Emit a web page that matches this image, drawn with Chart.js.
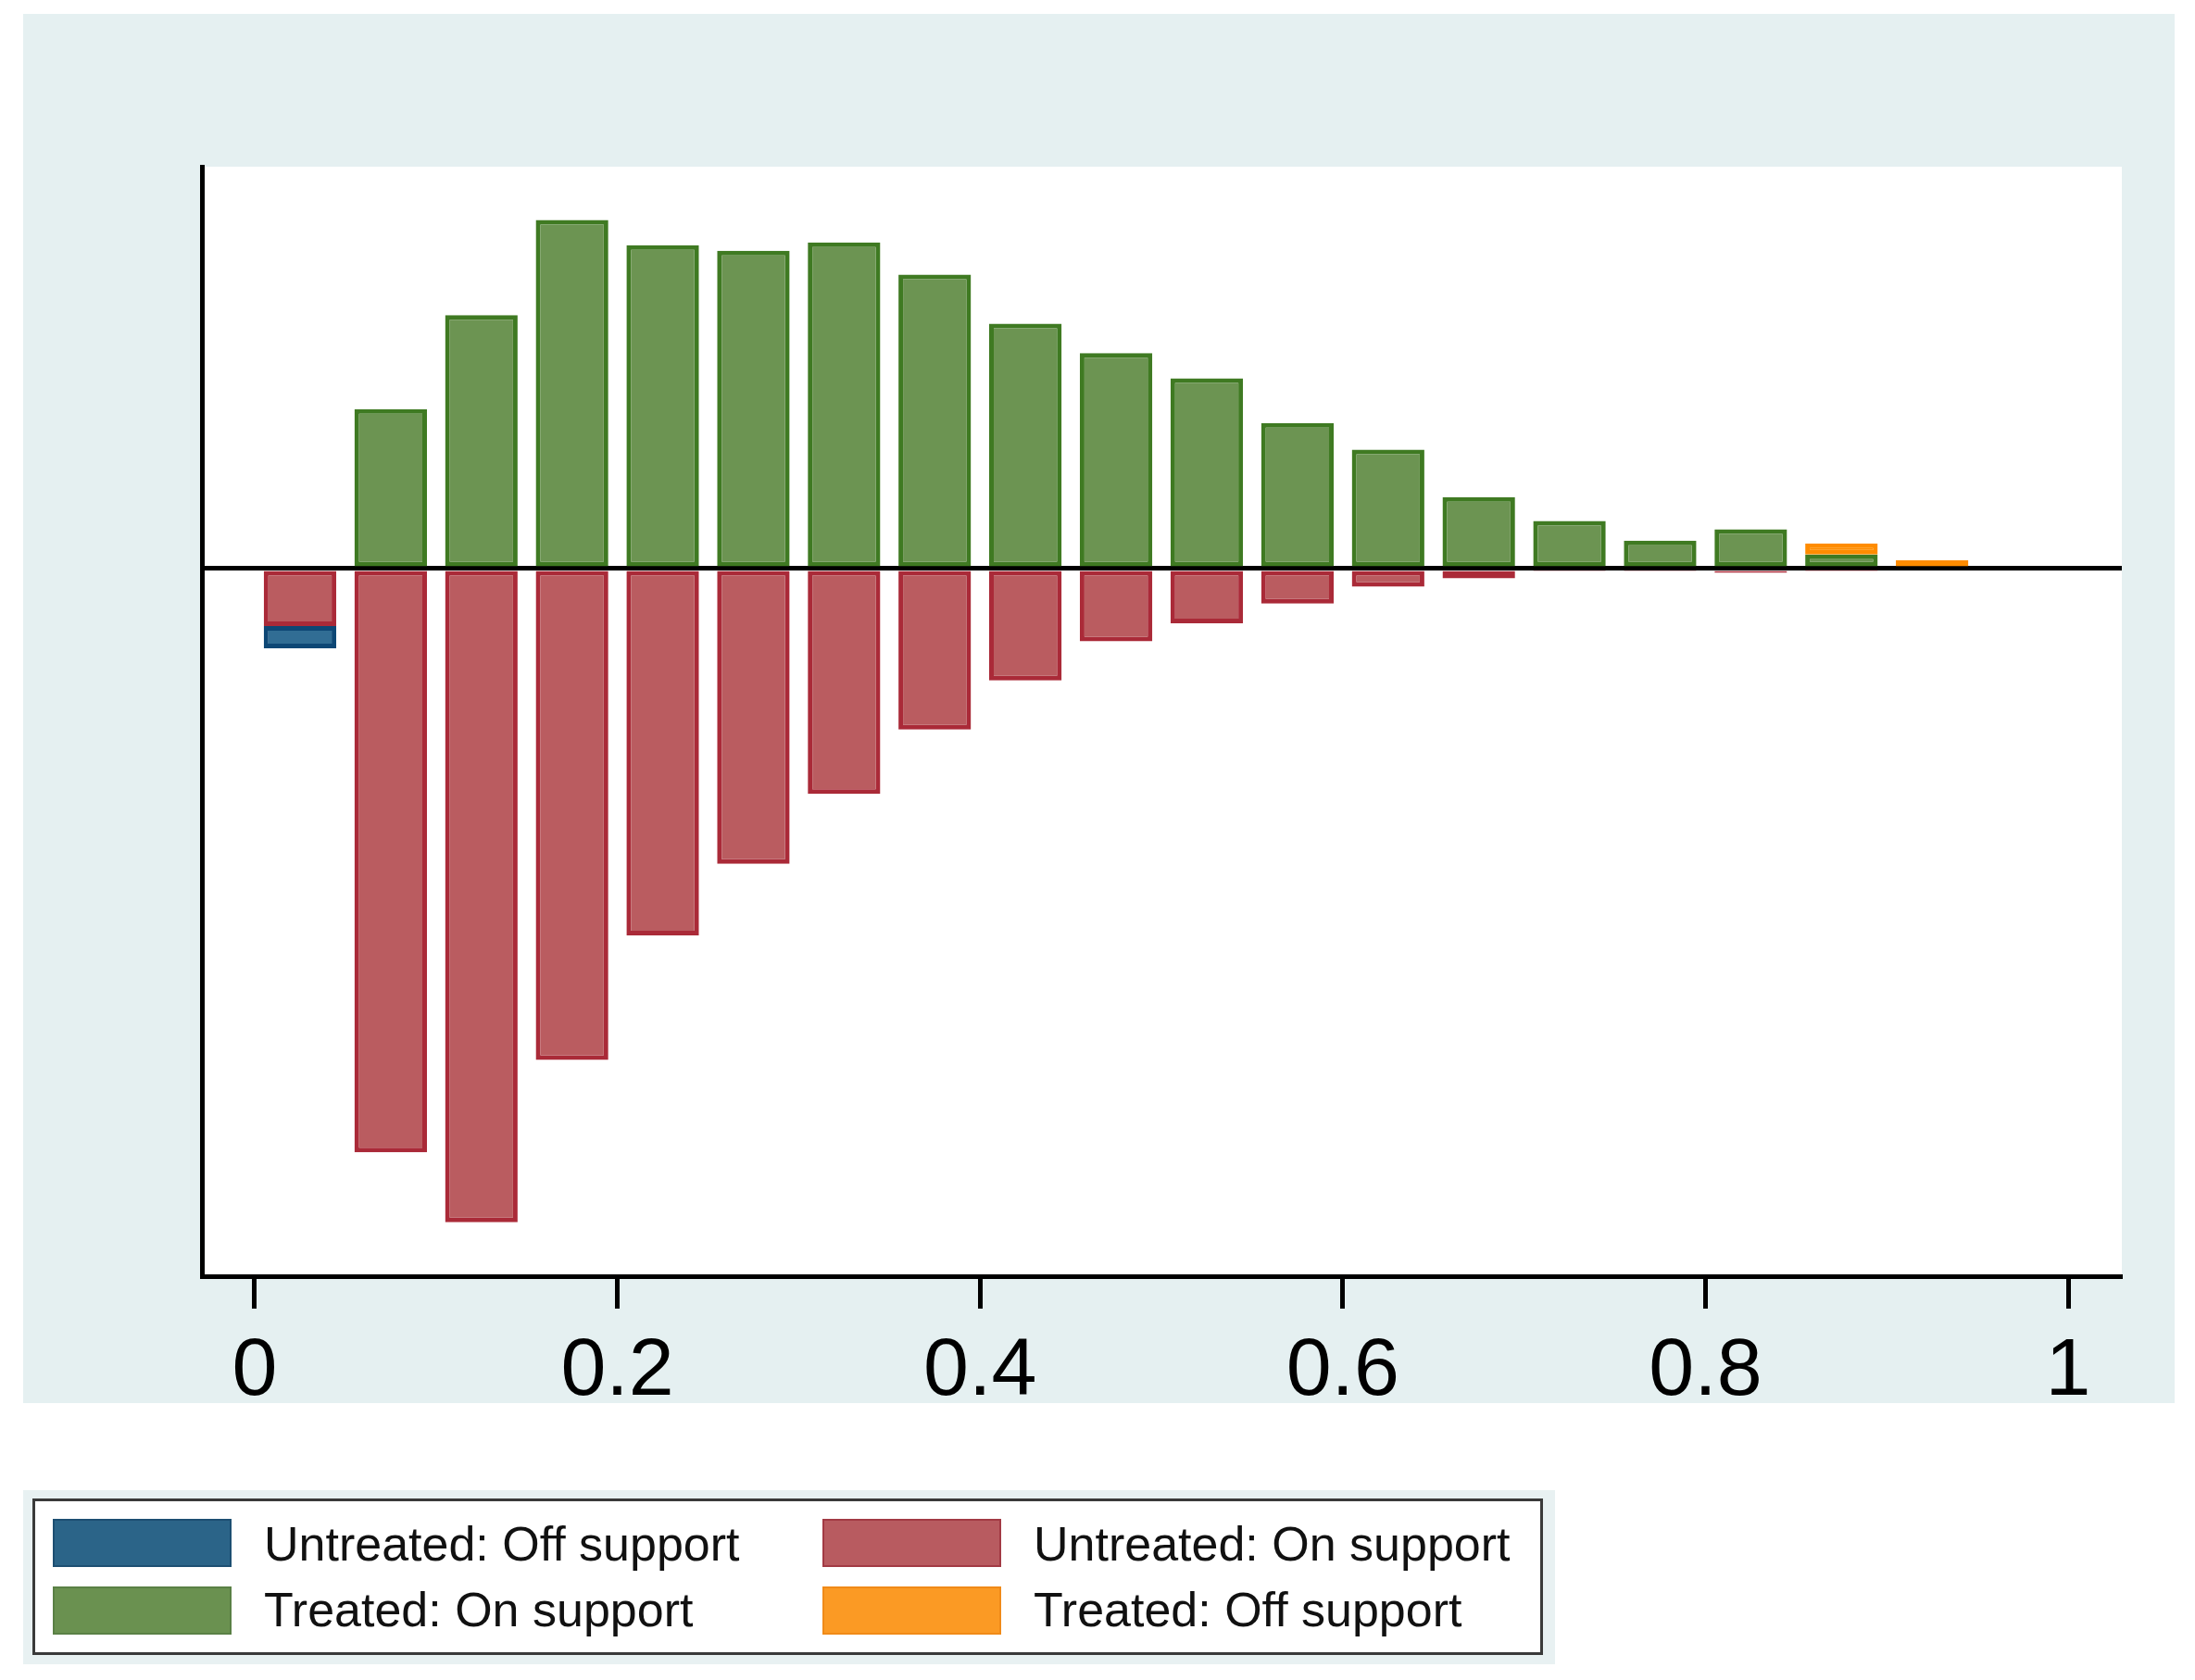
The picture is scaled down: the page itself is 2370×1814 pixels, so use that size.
<!DOCTYPE html>
<html>
<head>
<meta charset="utf-8">
<script src="https://cdn.jsdelivr.net/npm/chart.js@4"></script>
<style>
  body { margin: 0; background: #ffffff; width: 2370px; height: 1814px; position: relative; overflow: hidden; font-family: "Liberation Sans", Arial, sans-serif; }
  #panel { position: absolute; left: 25px; top: 15px; width: 2323px; height: 1500px; background: #e5f0f1; }
  #chartBox { position: absolute; left: 0; top: 0; width: 2370px; height: 1540px; }
  #legendBg { position: absolute; left: 25px; top: 1609px; width: 1654px; height: 188px; background: #e8f1f2; }
  #legend { position: absolute; left: 35px; top: 1618px; width: 1625px; height: 163px; background: #fff; border: 3px solid #3a3a3a; }
  .sw { position: absolute; width: 193px; height: 52px; }
  .lt { position: absolute; font-size: 52px; line-height: 53px; color: #111; white-space: nowrap; }
</style>
</head>
<body>
<div id="panel"></div>
<div id="chartBox"><canvas id="c"></canvas></div>
<div id="legendBg"></div>
<div id="legend"></div>

<script>
// propensity score bins (midpoints, width 0.05)
const bins = [0.025, 0.075, 0.125, 0.175, 0.225, 0.275, 0.325, 0.375, 0.425, 0.475,
              0.525, 0.575, 0.625, 0.675, 0.725, 0.775, 0.825, 0.875, 0.925];

// densities (treated up, untreated down)
const treatedOn   = [null, 1.14, 1.81, 2.49, 2.31, 2.27, 2.33, 2.10, 1.75, 1.54,
                     1.36, 1.04, 0.85, 0.51, 0.34, 0.20, 0.28, 0.10, null];
const treatedOff  = [null, null, null, null, null, null, null, null, null, null,
                     null, null, null, null, null, null, null, 0.08, 0.06];
const untreatedOn = [-0.41, -4.17, -4.67, -3.51, -2.62, -2.11, -1.61, -1.15, -0.80, -0.52,
                     -0.39, -0.25, -0.13, -0.07, -0.02, -0.02, -0.03, -0.01, null];
const untreatedOff = [-0.16, null, null, null, null, null, null, null, null, null,
                      null, null, null, null, null, null, null, null, null];

const xTicks = [0, 0.2, 0.4, 0.6, 0.8, 1];
const xTickLabels = ['0', '0.2', '0.4', '0.6', '0.8', '1'];

const legendItems = [
  { label: 'Untreated: Off support', color: '#2b6488', border: '#1d4f72' },
  { label: 'Untreated: On support',  color: '#b85b60', border: '#a23a44' },
  { label: 'Treated: On support',    color: '#6a9150', border: '#5a8045' },
  { label: 'Treated: Off support',   color: '#fb9a24', border: '#f08a18' }
];

const pts = arr => bins.map((b, i) => ({ x: b, y: arr[i] }));

// html legend, two columns, row-major
const lg = document.getElementById('legend');
legendItems.forEach((it, i) => {
  const col = i % 2, row = Math.floor(i / 2);
  const sw = document.createElement('div');
  sw.className = 'sw';
  sw.style.left = (col ? 850 : 19) + 'px';
  sw.style.top = (row ? 92 : 19) + 'px';
  sw.style.background = it.color;
  sw.style.boxShadow = 'inset 0 0 0 2px ' + it.border;
  lg.appendChild(sw);
  const t = document.createElement('div');
  t.className = 'lt';
  t.textContent = it.label;
  t.style.left = (col ? 1078 : 247) + 'px';
  t.style.top = (row ? 91 : 20) + 'px';
  lg.appendChild(t);
});

const plotBg = {
  id: 'plotBg',
  beforeDraw(chart) {
    const a = chart.chartArea, ctx = chart.ctx;
    ctx.save();
    ctx.fillStyle = '#ffffff';
    ctx.fillRect(a.left, a.top, a.right - a.left, a.bottom - a.top);
    ctx.restore();
  }
};

const barCommon = { borderWidth: 5, borderSkipped: false, barPercentage: 0.8, categoryPercentage: 1.0 };

new Chart(document.getElementById('c'), {
  type: 'bar',
  data: {
    datasets: [
      Object.assign({ label: 'Treated: On support', data: pts(treatedOn),
        backgroundColor: '#6c9452', borderColor: '#3f7a22' }, barCommon),
      Object.assign({ label: 'Treated: Off support', data: pts(treatedOff),
        backgroundColor: '#ff8c00', borderColor: '#ff8c00' }, barCommon),
      Object.assign({ label: 'Untreated: On support', data: pts(untreatedOn),
        backgroundColor: '#ba5c60', borderColor: '#aa2a38' }, barCommon),
      Object.assign({ label: 'Untreated: Off support', data: pts(untreatedOff),
        backgroundColor: '#316d94', borderColor: '#0d4775' }, barCommon)
    ]
  },
  options: {
    responsive: true,
    maintainAspectRatio: false,
    animation: false,
    layout: { padding: { left: 218, right: 79, top: 180, bottom: 0 } },
    plugins: { legend: { display: false }, tooltip: { enabled: false } },
    scales: {
      x: {
        type: 'linear',
        stacked: true,
        offset: false,
        min: -0.0291,
        max: 1.0296,
        afterBuildTicks: s => { s.ticks = xTicks.map(v => ({ value: v })); },
        afterFit: s => { s.height = 162; },
        border: { display: true, color: '#000', width: 5 },
        grid: { offset: false, drawOnChartArea: false, drawTicks: true, tickLength: 35, tickWidth: 5, tickColor: '#000' },
        ticks: {
          autoSkip: false,
          maxRotation: 0,
          padding: 16,
          color: '#000',
          font: { family: '"Liberation Sans", Arial, sans-serif', size: 88 },
          callback: v => xTickLabels[xTicks.indexOf(v)]
        }
      },
      y: {
        stacked: true,
        min: -5.055,
        max: 2.871,
        afterBuildTicks: s => { s.ticks = [{ value: 0 }]; },
        afterFit: s => { s.width = 0; },
        border: { display: true, color: '#000', width: 5 },
        grid: { drawTicks: false, color: '#000', lineWidth: 5 },
        ticks: { display: false }
      }
    }
  },
  plugins: [plotBg]
});
</script>
</body>
</html>
